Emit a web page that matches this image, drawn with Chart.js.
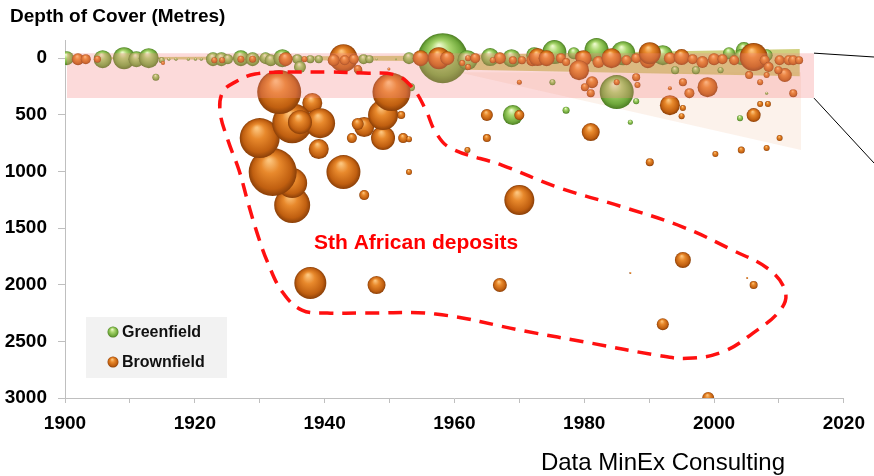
<!DOCTYPE html>
<html>
<head>
<meta charset="utf-8">
<script src="https://cdn.jsdelivr.net/npm/chart.js@4.4.1/dist/chart.umd.min.js"></script>
<style>
  html, body { margin: 0; padding: 0; background: #fff; }
  #wrap { width: 874px; height: 476px; }
</style>
</head>
<body>
<div id="wrap"><canvas id="c" width="874" height="476"></canvas></div>
<script>
// Discovery year, depth of cover (m) and bubble size for each deposit
const greenfieldDeposits = [
  [1900.3, 0, 7], [1905.8, 9, 9], [1909.1, 0, 11], [1911.0, 9, 8], [1912.9, 0, 10],
  [1914.9, 18, 3], [1914.0, 168, 3.5], [1916.0, 9, 1.5], [1917.1, 9, 1.5], [1919.0, 9, 1.5],
  [1920.1, 9, 1.5], [1921.0, 9, 1.5], [1922.8, 9, 7], [1924.1, 9, 7], [1925.1, 9, 5],
  [1927.1, 0, 8], [1928.9, 9, 7], [1930.9, 0, 6], [1931.7, 18, 6], [1933.5, 0, 9],
  [1935.8, 9, 5], [1936.2, 79, 6], [1937.8, 9, 4], [1939.1, 9, 4], [1946.0, 9, 5],
  [1946.9, 9, 4], [1948.0, 9, 1], [1951.0, 9, 1], [1953.0, 0, 6], [1953.3, 256, 4],
  [1958.2, 0, 25], [1962.0, 18, 10], [1965.5, -9, 9], [1968.8, 0, 9], [1972.3, -26, 8],
  [1975.4, -53, 12], [1978.4, -44, 6], [1981.9, -71, 12], [1986.0, -44, 12], [1992.1, -26, 10],
  [2002.3, -44, 6], [2004.6, -71, 8], [2004.3, -9, 8], [2008.1, -26, 6],
  [1975.1, 212, 3], [1994.0, 106, 4], [1997.2, 106, 4], [2001.0, 106, 3], [2008.1, 309, 1.5],
  [1985.0, 300, 17], [1969.0, 503, 10], [1977.2, 459, 3.5], [1987.1, 565, 2.5], [1988.0, 380, 3],
  [2004.0, 530, 3]
];

const brownfieldDeposits = [
  [1902.0, 9, 6], [1903.2, 9, 5], [1905.0, 9, 3.5], [1915.1, 44, 2], [1923.0, 18, 3],
  [1924.2, 18, 3], [1927.1, 9, 3.5], [1928.9, 9, 3.5], [1934.0, 9, 7], [1936.9, 9, 3],
  [1942.9, 0, 14], [1941.4, 18, 6], [1943.1, 18, 5], [1944.5, 9, 5], [1945.2, 106, 4],
  [1949.9, 97, 1.5], [1954.8, 0, 8], [1957.6, 0, 11], [1958.9, 0, 7], [1961.2, 44, 3],
  [1962.1, 0, 3], [1963.2, 9, 3], [1962.1, 79, 3], [1963.2, 0, 5], [1967.0, 0, 6],
  [1965.9, 18, 3], [1969.0, 18, 4], [1970.4, 18, 4], [1972.0, 18, 6], [1972.8, -9, 9],
  [1974.2, 0, 8], [1976.4, 0, 5], [1977.2, 35, 4], [1979.5, -9, 6], [1979.9, 0, 8],
  [1982.2, 35, 6], [1984.2, 0, 10], [1986.5, 18, 5], [1988.0, 0, 5], [1989.8, 18, 8],
  [1990.1, -44, 11], [1979.2, 106, 10], [1970.0, 212, 2.5], [1981.2, 212, 6], [1980.1, 256, 4],
  [1981.0, 309, 4], [1988.0, 168, 4], [1988.2, 238, 3], [1985.0, 212, 3],
  [1993.2, 0, 6], [1995.0, -9, 8], [1996.7, 9, 5], [1998.2, 35, 6], [2000.0, 9, 6],
  [2001.3, 9, 5], [2003.1, 18, 5], [2006.1, -9, 14], [2007.8, 18, 5], [2008.4, 79, 5],
  [2010.1, 18, 5], [2011.5, 18, 5], [2012.2, 18, 5], [2013.1, 18, 4], [2010.9, 150, 7],
  [2009.9, 106, 4], [2005.4, 150, 4], [2007.1, 212, 3], [2008.1, 150, 3],
  [1995.2, 212, 4], [1999.0, 256, 10], [1993.2, 265, 2], [1996.2, 309, 5], [2012.2, 309, 4],
  [1993.2, 415, 10], [1995.2, 441, 3], [1995.0, 512, 3], [2007.1, 406, 3], [2008.3, 406, 3],
  [2006.1, 503, 7], [1965.0, 503, 6], [1970.0, 503, 5], [1965.0, 706, 4], [1962.0, 812, 3],
  [1981.0, 653, 9], [1990.1, 918, 4], [2000.2, 847, 3], [2004.2, 812, 3.5], [2008.1, 794, 3],
  [2010.1, 706, 3],
  [1970.0, 1253, 15], [1995.2, 1782, 8], [1987.1, 1897, 1], [1967.0, 2003, 7], [2005.1, 1941, 1],
  [2006.1, 2003, 4], [1992.1, 2348, 6], [1999.1, 3000, 6],
  // South African gold fields
  [1935.0, 1297, 18], [1935.0, 1103, 15], [1932.0, 1006, 24], [1930.0, 706, 20], [1942.9, 1006, 17],
  [1946.1, 1209, 5], [1953.0, 1006, 3], [1939.1, 803, 10], [1938.1, 397, 10], [1935.0, 574, 20],
  [1939.3, 574, 15], [1936.2, 565, 12], [1933.0, 300, 22], [1944.2, 706, 5], [1949.0, 706, 12],
  [1952.1, 706, 5], [1953.0, 715, 3], [1946.1, 609, 10], [1945.1, 582, 6], [1951.8, 503, 4],
  [1949.0, 503, 15], [1950.3, 300, 19], [1945.1, 97, 4], [1937.8, 1985, 16], [1948.0, 2003, 9]
];

// Axis ranges and tick labels
const yearRange = [1900, 2020];
const depthRange = [-160, 3000];
const yearLabels = [1900, 1920, 1940, 1960, 1980, 2000, 2020];
const depthLabels = [0, 500, 1000, 1500, 2000, 2500, 3000];

// Shallow-cover zone (<~350 m) and the spread of recent discoveries
const shallowZone = [[1900.3, -44], [2015.4, -44], [2015.4, 353], [1900.3, 353], [1900.3, -44]];
const recentSpread = [[1905, -8], [1955, -20], [2013.2, -80], [2013.2, 160], [1960, 100], [1955, 25], [1905, 8], [1905, -8]];
const deepeningTrend = [[1960.6, 124], [2013.4, 124], [2013.4, 812], [1960.6, 124]];

// Outline around the South African deposits
const saOutline = [
  [1934.3, 123], [1940.8, 123], [1946.0, 132], [1951.0, 150], [1953.6, 265], [1955.6, 459],
  [1957.1, 653], [1959.4, 794], [1967.3, 944], [1975.8, 1138], [1986.0, 1315], [1995.2, 1491],
  [2002.8, 1694], [2008.6, 1871], [2011.0, 2065], [2010.2, 2224], [2006.0, 2427], [2001.3, 2594],
  [1995.9, 2650], [1991.1, 2621], [1981.0, 2515], [1970.8, 2409], [1957.1, 2259], [1946.0, 2250],
  [1940.4, 2250], [1936.5, 2224], [1933.5, 2065], [1931.2, 1800], [1929.7, 1562], [1928.3, 1297],
  [1926.8, 988], [1925.1, 724], [1923.9, 476], [1924.3, 300], [1926.2, 212], [1929.3, 140], [1934.3, 123]
];

const FONT = "'Liberation Sans', Arial, sans-serif";
const GREEN = ['#eaf8c8', '#a9d66e', '#6fa83b', '#4c7c22'];
const BROWN = ['#fcc47c', '#e8892c', '#c05f10', '#8a3f08'];

function ballGradient(c, cx, cy, r, pal) {
  const g = c.createRadialGradient(cx - r * 0.15, cy - r * 0.5, Math.max(r * 0.05, 0.1), cx, cy, Math.max(r, 0.5));
  g.addColorStop(0, pal[0]);
  g.addColorStop(0.35, pal[1]);
  g.addColorStop(0.8, pal[2]);
  g.addColorStop(1, pal[3]);
  return g;
}

function ballFill(pal) {
  return (ctx) => {
    if (ctx.type !== 'data' || !ctx.raw) return pal[1];
    const ch = ctx.chart;
    const xs = ch.scales.x, ys = ch.scales.y;
    if (!xs || !ys) return pal[1];
    const cx = xs.getPixelForValue(ctx.raw.x);
    const cy = ys.getPixelForValue(ctx.raw.y);
    const r = ctx.raw.r;
    if (![cx, cy, r].every(Number.isFinite)) return pal[1];
    return ballGradient(ch.ctx, cx, cy, r, pal);
  };
}

const toBubbles = rows => rows.map(([x, y, r]) => ({ x, y, r }));
const toPoints = rows => rows.map(([x, y]) => ({ x, y }));

function areaSet(rows, color, order) {
  return {
    type: 'line', data: toPoints(rows), order,
    borderColor: 'transparent', borderWidth: 0, backgroundColor: color,
    fill: 'shape', pointRadius: 0, tension: 0, clip: false
  };
}

const decorPlugin = {
  id: 'decor',
  afterDraw(chart) {
    const { ctx, scales: { x, y } } = chart;
    ctx.save();

    // leader lines from the shallow-cover band
    const bx = x.getPixelForValue(shallowZone[1][0]);
    ctx.strokeStyle = '#000';
    ctx.lineWidth = 1;
    ctx.beginPath();
    ctx.moveTo(bx, y.getPixelForValue(shallowZone[1][1]));
    ctx.lineTo(chart.width, 57);
    ctx.moveTo(bx, y.getPixelForValue(shallowZone[2][1]));
    ctx.lineTo(chart.width, 163);
    ctx.stroke();

    // axis title
    ctx.fillStyle = '#000';
    ctx.textBaseline = 'middle';
    ctx.textAlign = 'left';
    ctx.font = 'bold 19px ' + FONT;
    ctx.fillText('Depth of Cover (Metres)', 10, 17);

    // annotation label
    ctx.fillStyle = '#ff0000';
    ctx.textAlign = 'center';
    ctx.font = 'bold 21px ' + FONT;
    ctx.fillText('Sth African deposits', x.getPixelForValue(1954.1), y.getPixelForValue(1632));

    // source note
    ctx.fillStyle = '#000';
    ctx.font = '24px ' + FONT;
    ctx.fillText('Data MinEx Consulting', 663, 463);

    // legend
    ctx.fillStyle = '#f2f2f2';
    ctx.fillRect(86, 317, 141, 61);
    const items = [['Greenfield', GREEN, 332], ['Brownfield', BROWN, 362]];
    ctx.textAlign = 'left';
    ctx.font = 'bold 16px ' + FONT;
    for (const [label, pal, ly] of items) {
      ctx.beginPath();
      ctx.arc(113, ly, 5.5, 0, Math.PI * 2);
      ctx.fillStyle = ballGradient(ctx, 113, ly, 5.5, pal);
      ctx.fill();
      ctx.fillStyle = '#111';
      ctx.fillText(label, 122, ly + 1);
    }
    ctx.restore();
  }
};

new Chart(document.getElementById('c'), {
  type: 'bubble',
  data: {
    datasets: [
      areaSet(deepeningTrend, 'rgba(246, 214, 192, 0.32)', 5),
      areaSet(recentSpread, 'rgba(200, 200, 105, 0.85)', 4),
      {
        label: 'Greenfield', data: toBubbles(greenfieldDeposits), order: 3,
        backgroundColor: ballFill(GREEN), borderWidth: 0,
        clip: { left: 0, top: false, right: false, bottom: 0 }
      },
      {
        label: 'Brownfield', data: toBubbles(brownfieldDeposits), order: 2,
        backgroundColor: ballFill(BROWN), borderWidth: 0,
        clip: { left: 0, top: false, right: false, bottom: 0 }
      },
      areaSet(shallowZone, 'rgba(245, 131, 131, 0.3)', 1),
      {
        type: 'line', data: toPoints(saOutline), order: 0,
        borderColor: '#ff1010', borderWidth: 3.5, borderDash: [14, 9],
        fill: false, pointRadius: 0, tension: 0.4, clip: false
      }
    ]
  },
  options: {
    responsive: false,
    animation: false,
    events: [],
    layout: { padding: { top: 40, right: 21, left: 0, bottom: 0 } },
    plugins: { legend: { display: false }, tooltip: { enabled: false }, title: { display: false } },
    scales: {
      x: {
        type: 'linear', min: yearRange[0], max: yearRange[1],
        afterFit: s => { s.height = 78; },
        border: { display: true, color: '#bfbfbf', width: 1 },
        grid: { drawOnChartArea: false, drawTicks: true, tickLength: 5, color: '#bfbfbf' },
        ticks: {
          stepSize: 10, padding: 9, color: '#000',
          font: { family: FONT, size: 19, weight: 'bold' },
          callback: v => yearLabels.includes(v) ? String(v) : ''
        }
      },
      y: {
        type: 'linear', reverse: true, min: depthRange[0], max: depthRange[1],
        afterFit: s => { s.width = 65; },
        afterBuildTicks: s => { s.ticks = depthLabels.map(v => ({ value: v })); },
        border: { display: true, color: '#bfbfbf', width: 1 },
        grid: { drawOnChartArea: false, drawTicks: true, tickLength: 7, color: '#bfbfbf' },
        ticks: {
          padding: 11, color: '#000',
          font: { family: FONT, size: 19, weight: 'bold' },
          callback: v => String(v)
        }
      }
    }
  },
  plugins: [decorPlugin]
});
</script>
</body>
</html>
